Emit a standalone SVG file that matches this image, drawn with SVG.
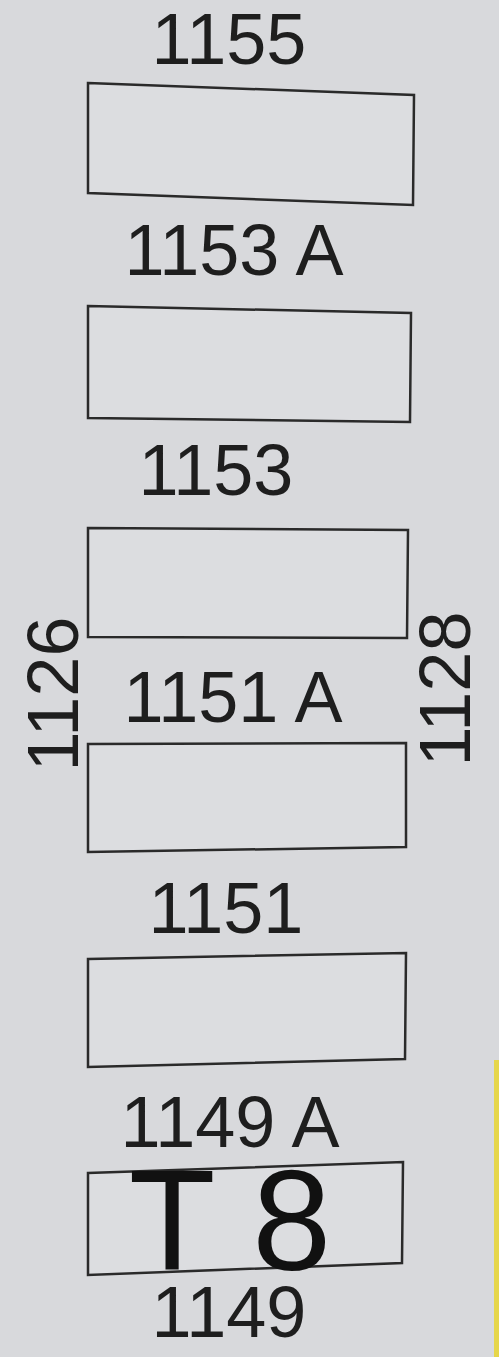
<svg xmlns="http://www.w3.org/2000/svg" width="499" height="1357" viewBox="0 0 499 1357">
<style>
.bg{fill:#d8d9dc}
.box{fill:#dcdde0;stroke:#2a2a2a;stroke-width:2.5;stroke-linejoin:miter}
.lbl{font-family:"Liberation Sans",Arial,sans-serif;font-size:72px;fill:#1e1e1e;text-anchor:middle}
.big{font-family:"Liberation Sans",Arial,sans-serif;font-size:142px;fill:#111;text-anchor:middle}
</style>
<rect class="bg" x="0" y="0" width="499" height="1357"/>
<rect x="494" y="1060" width="5" height="297" fill="#e6d64a"/>
<g id="n1155">
<text class="lbl" x="229" y="64">1155</text>
<polygon class="box" points="88,83 414,95 413,205 88,193"/>
</g>
<g id="n1153A">
<text class="lbl" x="234" y="275">1153 A</text>
<polygon class="box" points="88,306 411,313 410,422 88,418"/>
</g>
<g id="n1153">
<text class="lbl" x="216" y="495">1153</text>
<polygon class="box" points="88,528 408,530 407,638 88,637"/>
</g>
<g id="n1151A">
<text class="lbl" x="233" y="722">1151 A</text>
<polygon class="box" points="88,744 406,743 406,847 88,852"/>
</g>
<g id="n1151">
<text class="lbl" x="226" y="933">1151</text>
<polygon class="box" points="88,959 406,953 405,1059 88,1067"/>
</g>
<g id="n1149A">
<text class="lbl" x="230" y="1147">1149 A</text>
<polygon class="box" points="88,1173 403,1162 402,1263 88,1275"/>
<text class="big" x="230" y="1270">T 8</text>
</g>
<g id="n1149">
<text class="lbl" x="229" y="1337">1149</text>
</g>
<g id="n1126">
<text class="lbl" transform="translate(78,694) rotate(-90)">1126</text>
</g>
<g id="n1128">
<text class="lbl" transform="translate(470,689) rotate(-90)">1128</text>
</g>
</svg>
